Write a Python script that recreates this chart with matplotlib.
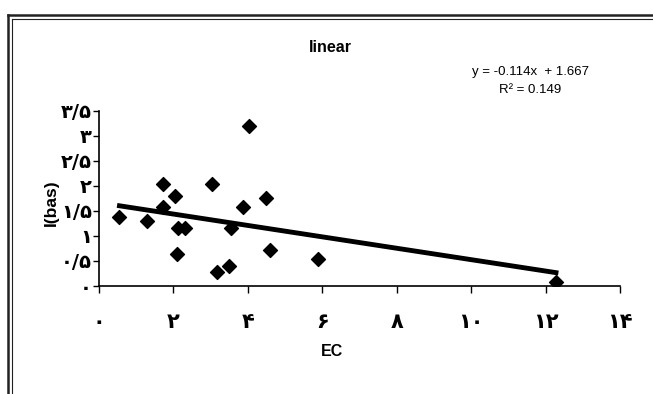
import numpy as np
import matplotlib.pyplot as plt
from matplotlib.lines import Line2D

# data
ec = [0.55, 1.30, 1.73, 1.71, 2.03, 2.12, 2.32, 2.09, 3.04, 4.03,
      3.86, 3.55, 3.16, 3.49, 4.48, 4.59, 5.89, 12.28]
ibas = [1.37, 1.30, 2.04, 1.57, 1.79, 1.17, 1.17, 0.64, 2.04, 3.19,
        1.57, 1.17, 0.29, 0.41, 1.76, 0.72, 0.54, 0.09]
slope = -0.114
intercept = 1.667
r2 = 0.149

x_ticks = [0, 2, 4, 6, 8, 10, 12, 14]
x_labels = ['۰', '۲', '۴', '۶', '۸', '۱۰', '۱۲', '۱۴']
y_ticks = [0, 0.5, 1, 1.5, 2, 2.5, 3, 3.5]
y_labels = ['۰', '۰/۵', '۱', '۱/۵', '۲', '۲/۵', '۳', '۳/۵']

fig = plt.figure(figsize=(6.53, 3.94), dpi=100)
ax = fig.add_axes([99 / 653, 1 - 286 / 394, 521 / 653, 175 / 394])

ax.scatter(ec, ibas, marker='D', s=50, color='black', zorder=3)
xl = np.array([min(ec), max(ec)])
ax.plot(xl, slope * xl + intercept, color='black', lw=3.5, zorder=2)

ax.set_xlim(0, 14)
ax.set_ylim(0, 3.5)
ax.set_xticks(x_ticks)
ax.set_xticklabels(x_labels, fontsize=15, fontweight='bold', family=['DejaVu Sans'])
ax.set_yticks(y_ticks)
ax.set_yticklabels(y_labels, fontsize=14, fontweight='bold', family=['DejaVu Sans'])
ax.tick_params(axis='x', length=5, width=1, pad=14)
ax.tick_params(axis='y', length=4, width=1, pad=1)

for s in ['top', 'right']:
    ax.spines[s].set_visible(False)
for s in ['left', 'bottom']:
    ax.spines[s].set_linewidth(1.2)

ax.set_xlabel('EC', fontsize=11.5, fontweight='bold', family='Liberation Sans')
ax.xaxis.set_label_coords((332 - 99) / 521, (286 - 344) / 175)
ax.set_ylabel('I(bas)', fontsize=12.5, fontweight='bold', family='Liberation Sans')
ax.yaxis.set_label_coords((59 - 99) / 521, (286 - 203) / 175)

fig.text(330 / 653, 1 - 48 / 394, 'linear', ha='center', va='center',
         fontsize=11.5, fontweight='bold', family='Liberation Sans')
fig.text(530 / 653, 1 - 72 / 394, 'y = -0.114x  + 1.667', ha='center', va='center',
         fontsize=9.5, family='Liberation Sans')
fig.text(530 / 653, 1 - 90 / 394, f'R² = {r2}', ha='center', va='center',
         fontsize=9.5, family='Liberation Sans')

# double frame around the chart
W, H = 653, 394
fig.add_artist(Line2D([8 / W, 8 / W], [0, 1 - 15 / H], color='#222222', lw=1.8))
fig.add_artist(Line2D([8 / W, 1], [1 - 15 / H, 1 - 15 / H], color='#222222', lw=1.8))
fig.add_artist(Line2D([11.5 / W, 11.5 / W], [0, 1 - 18.5 / H], color='#222222', lw=0.8))
fig.add_artist(Line2D([11.5 / W, 1], [1 - 18.5 / H, 1 - 18.5 / H], color='#222222', lw=0.8))

fig.savefig('out.png', dpi=100)
